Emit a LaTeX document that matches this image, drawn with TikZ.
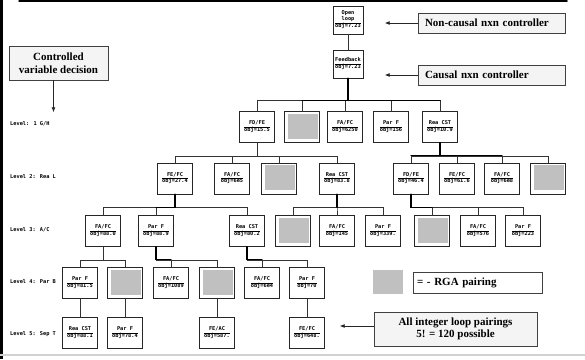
\documentclass[tikz,border=0pt]{standalone}
\usepackage{fontspec}
\setmainfont{Liberation Serif}
\newfontfamily\treefont{DejaVu Sans Mono}
\usepackage{tikz}
\usetikzlibrary{arrows.meta,shadows}

\definecolor{rgagray}{HTML}{C0C0C0}
\definecolor{notefill}{HTML}{F4F4F4}

% two-line cell: pairing name over its objective value
\newcommand{\pairing}[2]{\begin{tabular}{@{}c@{}}#1\\\hline obj=#2\end{tabular}}

\begin{document}
\begin{tikzpicture}[
  x=1pt, y=-1pt,
  >=Latex,
  line cap=round,
  tree/.style={draw=black!85, line width=0.5pt, fill=white,
    minimum width=35pt, minimum height=31pt, inner sep=0pt,
    font=\treefont\bfseries\fontsize{5.3}{6}\selectfont,
    drop shadow={shadow xshift=0.7pt, shadow yshift=-0.7pt, fill=black!45, opacity=1}},
  rga/.style={tree, path picture={
    \fill[rgagray] ([shift={(3pt,-2pt)}]path picture bounding box.north west)
      rectangle ([shift={(-2pt,4pt)}]path picture bounding box.south east);}},
  note/.style={draw=black!75, line width=0.6pt, fill=notefill,
    font=\bfseries\fontsize{11}{12.5}\selectfont, inner sep=0pt,
    drop shadow={shadow xshift=0.8pt, shadow yshift=-0.8pt, fill=black!50, opacity=1}},
  level/.style={anchor=west, inner sep=0pt, font=\treefont\bfseries\fontsize{5.3}{6}\selectfont},
  edge/.style={draw=black!80, line width=0.5pt},
  best/.style={draw=black, line width=1.4pt},
  pointer/.style={-{Latex[length=5pt,width=4pt]}, draw=black!85, line width=0.8pt}
]
\useasboundingbox (0,0) rectangle (585,359);

% frame strokes
\fill[black] (0,0) rectangle (3,359);
\draw[black, line width=1.5pt] (19,0.75) -- (567,0.75);
\draw[black!18, line width=1.5pt] (0,355) -- (585,355);

% controller structure
\node[tree, minimum width=30pt, minimum height=28pt] (root) at (348,20)
  {\begin{tabular}{@{}c@{}}Open\\loop\\\hline obj=7.23\end{tabular}};
\node[tree, minimum width=30pt, minimum height=28pt] (fb) at (348,64) {\pairing{Feedback}{7.23}};

% Level 1
\node[tree] (l1a) at (257,127) {\pairing{FD/FE}{15.5}};
\node[rga]  (l1b) at (302,127) {};
\node[tree] (l1c) at (345,127) {\pairing{FA/FC}{6250}};
\node[tree] (l1d) at (391,127) {\pairing{Par F}{156}};
\node[tree] (l1e) at (440,127) {\pairing{Rea CST}{10.9}};

% Level 2
\node[tree] (l2a) at (175,178.5) {\pairing{FE/FC}{27.4}};
\node[tree] (l2b) at (232,178.5) {\pairing{FA/FC}{6e5}};
\node[rga]  (l2c) at (279,178.5) {};
\node[tree] (l2d) at (337,178.5) {\pairing{Rea CST}{83.8}};
\node[tree] (l2e) at (411,178.5) {\pairing{FD/FE}{46.4}};
\node[tree] (l2f) at (457,178.5) {\pairing{FE/FC}{61.6}};
\node[tree] (l2g) at (502,178.5) {\pairing{FA/FC}{6e8}};
\node[rga]  (l2h) at (548,178.5) {};

% Level 3
\node[tree] (l3a) at (103,231) {\pairing{FA/FC}{88.0}};
\node[tree] (l3b) at (156,231) {\pairing{Par F}{88.9}};
\node[tree] (l3c) at (247,231) {\pairing{Rea CST}{80.2}};
\node[rga]  (l3d) at (293,231) {};
\node[tree] (l3e) at (337,231) {\pairing{FA/FC}{145}};
\node[tree] (l3f) at (383,231) {\pairing{Par F}{339.}};
\node[rga]  (l3g) at (432,231) {};
\node[tree] (l3h) at (478,231) {\pairing{FA/FC}{576}};
\node[tree] (l3i) at (523,231) {\pairing{Par F}{223}};

% Level 4
\node[tree] (l4a) at (80,283)  {\pairing{Par F}{81.5}};
\node[rga]  (l4b) at (125,283) {};
\node[tree] (l4c) at (171,283) {\pairing{FA/FC}{1089}};
\node[rga]  (l4d) at (217,283) {};
\node[tree] (l4e) at (262,283) {\pairing{FA/FC}{6e4}};
\node[tree] (l4f) at (307,283) {\pairing{Par F}{70}};

% Level 5
\node[tree] (l5a) at (80,333)  {\pairing{Rea CST}{88.1}};
\node[tree] (l5b) at (125,333) {\pairing{Par F}{78.4}};
\node[tree] (l5c) at (217,333) {\pairing{FE/AC}{587.}};
\node[tree] (l5d) at (307,333) {\pairing{FE/FC}{648.}};

% branches
\draw[edge] (root) -- (fb);
\foreach \c in {l1a,l1b,l1c,l1d,l1e}
  \draw[edge] (fb.south) -- ++(0,22) -| (\c.north);
\foreach \p/\c in {l1a/l2a,l1a/l2b,l1a/l2c,l1a/l2d,
                   l1e/l2e,l1e/l2f,l1e/l2g,l1e/l2h,
                   l2a/l3a,l2a/l3b,l2a/l3c,
                   l2d/l3d,l2d/l3e,l2d/l3f,
                   l2e/l3g,l2e/l3h,l2e/l3i,
                   l3a/l4a,l3a/l4b,
                   l3b/l4c,l3b/l4d,
                   l3c/l4e,l3c/l4f}
  \draw[edge] (\p.south) -- ++(0,13) -| (\c.north);
\foreach \p/\c in {l4a/l5a,l4b/l5b,l4d/l5c,l4f/l5d}
  \draw[edge] (\p) -- (\c);

% heavier strokes along the best branches
\draw[best] (fb.south) -- ++(0,22) coordinate (j0) -- (j0 -| l1b.north);
\draw[best] (j0) -- (j0 -| l1e.north);
\foreach \p/\c/\d in {l1e/l2e/13,l1e/l2g/13,l2a/l3b/13,l2d/l3e/13,
                      l2e/l3g/13,l3b/l4c/13,l3c/l4e/13}
  \draw[best] (\p.south) -- ++(0,\d) coordinate (j) -- (j -| \c.north);

% level captions
\node[level] (lv1) at (10,124) {Level: 1 G/H};
\node[level] (lv2) at (10,177) {Level 2: Rea L};
\node[level] (lv3) at (10,230) {Level 3: A/C};
\node[level] (lv4) at (10,282) {Level 4: Par B};
\node[level] (lv5) at (10,334) {Level 5: Sep T};

% call-outs
\node[note, minimum width=99pt, minimum height=34pt, align=center] (cvd) at (58.5,63)
  {Controlled\\variable decision};
\draw[pointer] ([xshift=-5pt]cvd.south) -- ++(0,32);

\node[note, text width=133pt, inner xsep=7pt, minimum height=20pt, align=left] (noncausal) at (491.5,23)
  {Non-causal nxn controller};
\draw[pointer] (noncausal.west) -- ++(-33,0);

\node[note, text width=133pt, inner xsep=7pt, minimum height=20pt, align=left] (causal) at (491.5,75)
  {Causal nxn controller};
\draw[pointer] (causal.west) -- ++(-33,0);

\node[fill=rgagray, minimum width=30pt, minimum height=24pt, inner sep=0pt] (rgakey) at (388,282) {};
\node[note, fill=white, text width=121pt, inner xsep=4pt, minimum height=21pt, align=left] (rgalabel) at (477.5,282.5)
  {= - RGA pairing};

\node[note, minimum width=163pt, minimum height=34pt, align=center] (allint) at (455.5,329)
  {All integer loop pairings\\5! = 120 possible};
\draw[pointer] ([yshift=3pt]allint.west) -- ++(-34,0);
\end{tikzpicture}
\end{document}
